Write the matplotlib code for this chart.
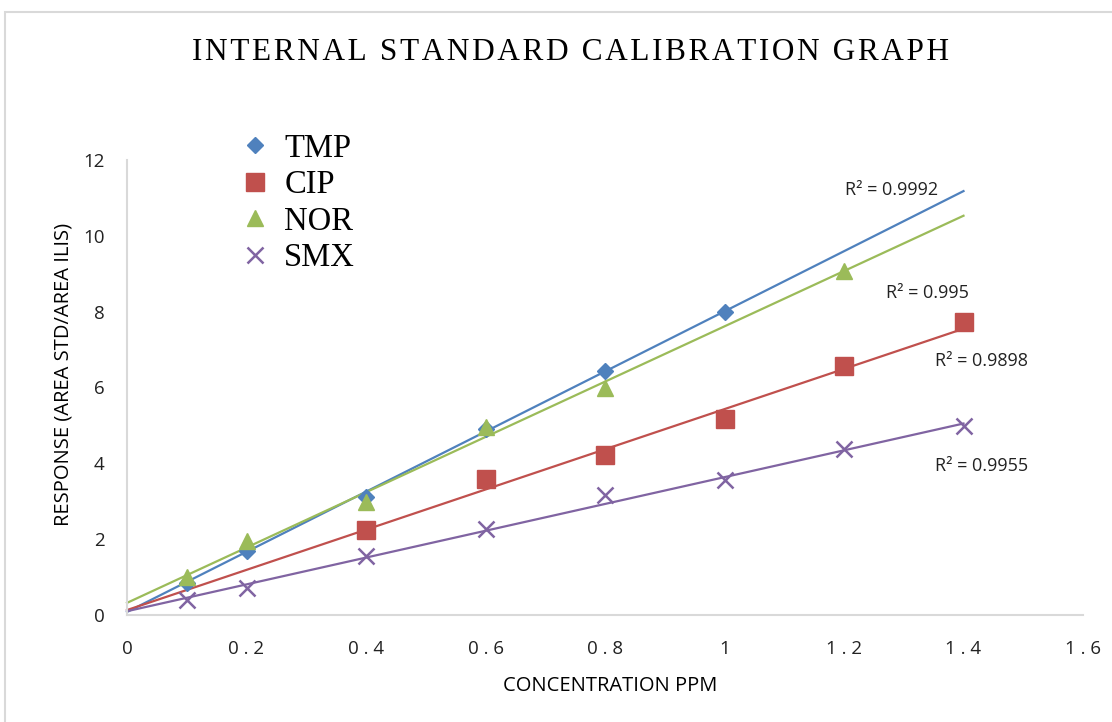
import numpy as np
import matplotlib
matplotlib.use('Agg')
import matplotlib.pyplot as plt
from matplotlib.patches import Rectangle

# %% data
tmp_x = [0.1, 0.2, 0.4, 0.6, 0.8, 1.0]
tmp_y = [0.85, 1.68, 3.1, 4.9, 6.43, 8.0]
cip_x = [0.4, 0.6, 0.8, 1.0, 1.2, 1.4]
cip_y = [2.24, 3.6, 4.21, 5.18, 6.58, 7.72]
nor_x = [0.1, 0.2, 0.4, 0.6, 0.8, 1.2]
nor_y = [1.0, 1.95, 2.97, 4.95, 6.0, 9.08]
smx_x = [0.1, 0.2, 0.4, 0.6, 0.8, 1.0, 1.2, 1.4]
smx_y = [0.39, 0.7, 1.55, 2.27, 3.16, 3.57, 4.39, 4.98]

# trendline ends at x = 0 and x = 1.4
trend_x = [0.0, 1.4]
tmp_trend = [0.08, 11.18]
cip_trend = [0.13, 7.55]
nor_trend = [0.32, 10.53]
smx_trend = [0.10, 5.05]

r2_labels = ['R² = 0.9992', 'R² = 0.995', 'R² = 0.9898', 'R² = 0.9955']
r2_pos = [(1.28, 11.2), (1.34, 8.5), (1.43, 6.7), (1.43, 3.93)]

x_ticks = [0, 0.2, 0.4, 0.6, 0.8, 1.0, 1.2, 1.4, 1.6]
x_ticklabels = ['0', '0 . 2', '0 . 4', '0 . 6', '0 . 8', '1', '1 . 2', '1 . 4', '1 . 6']
y_ticks = [0, 2, 4, 6, 8, 10, 12]

title = 'INTERNAL STANDARD CALIBRATION GRAPH'

blue = '#4F81BD'
red = '#C0504D'
green = '#9BBB59'
purple = '#8064A2'
grey = '#D9D9D9'

# %%
fig = plt.figure(figsize=(11.12, 7.22), dpi=100)
ax = fig.add_axes([127 / 1112, 1 - 615 / 722, (1083 - 127) / 1112, (615 - 160) / 722])

# chart area border (cropped at right/bottom)
fig.patches.append(Rectangle((5 / 1112, -0.05), 1.2, 1 - 12 / 722 + 0.05,
                             transform=fig.transFigure, fill=False,
                             edgecolor=grey, linewidth=1.5))

ax.plot(trend_x, tmp_trend, color=blue, lw=1.6, clip_on=False)
ax.plot(trend_x, nor_trend, color=green, lw=1.6, clip_on=False)
ax.plot(trend_x, cip_trend, color=red, lw=1.6, clip_on=False)
ax.plot(trend_x, smx_trend, color=purple, lw=1.6, clip_on=False)

h1, = ax.plot(tmp_x, tmp_y, 'D', color=blue, ms=8, ls='None', label='TMP')
h2, = ax.plot(cip_x, cip_y, 's', color=red, ms=13, ls='None', label='CIP')
h3, = ax.plot(nor_x, nor_y, '^', color=green, ms=12, ls='None', label='NOR')
h4, = ax.plot(smx_x, smx_y, 'x', color=purple, ms=11, mew=1.8, ls='None', label='SMX')

for txt, (px, py) in zip(r2_labels, r2_pos):
    ax.text(px, py, txt, fontsize=13, family='Open Sans', color='#222222',
            ha='center', va='center')

ax.set_xlim(0, 1.6)
ax.set_ylim(0, 12)
ax.set_xticks(x_ticks)
ax.set_xticklabels(x_ticklabels)
ax.set_yticks(y_ticks)
ax.tick_params(length=0, labelsize=13.5, colors='#222222')
ax.tick_params(axis='x', pad=18)
ax.tick_params(axis='y', pad=16)
for lab in ax.get_xticklabels() + ax.get_yticklabels():
    lab.set_family('Open Sans')

for s in ['top', 'right']:
    ax.spines[s].set_visible(False)
for s in ['left', 'bottom']:
    ax.spines[s].set_color(grey)
    ax.spines[s].set_linewidth(1.5)

ax.set_xlabel('CONCENTRATION PPM', fontsize=14.5, family='Open Sans', va='center')
ax.set_ylabel('RESPONSE (AREA STD/AREA ILIS)', fontsize=14.5, family='Open Sans', va='center')
ax.xaxis.set_label_coords(0.5 - (600 - 605) / 956, (615 - 686) / 455)
ax.yaxis.set_label_coords((63 - 127) / 956, (615 - 374) / 455)

fig.text(570 / 1112, 1 - 53 / 722, '\u200a'.join(title),
         fontsize=22.5, family=['Liberation Serif', 'DejaVu Serif'], ha='center', va='center')

fig.legend(handles=[h1, h2, h3, h4], loc='upper left',
           bbox_to_anchor=(206 / 1112, 1 - 104 / 722), frameon=False,
           prop={'family': 'Liberation Serif', 'size': 23.5},
           handletextpad=0.3, labelspacing=0.18, handlelength=1.2)

fig.savefig('out.png', dpi=100)
